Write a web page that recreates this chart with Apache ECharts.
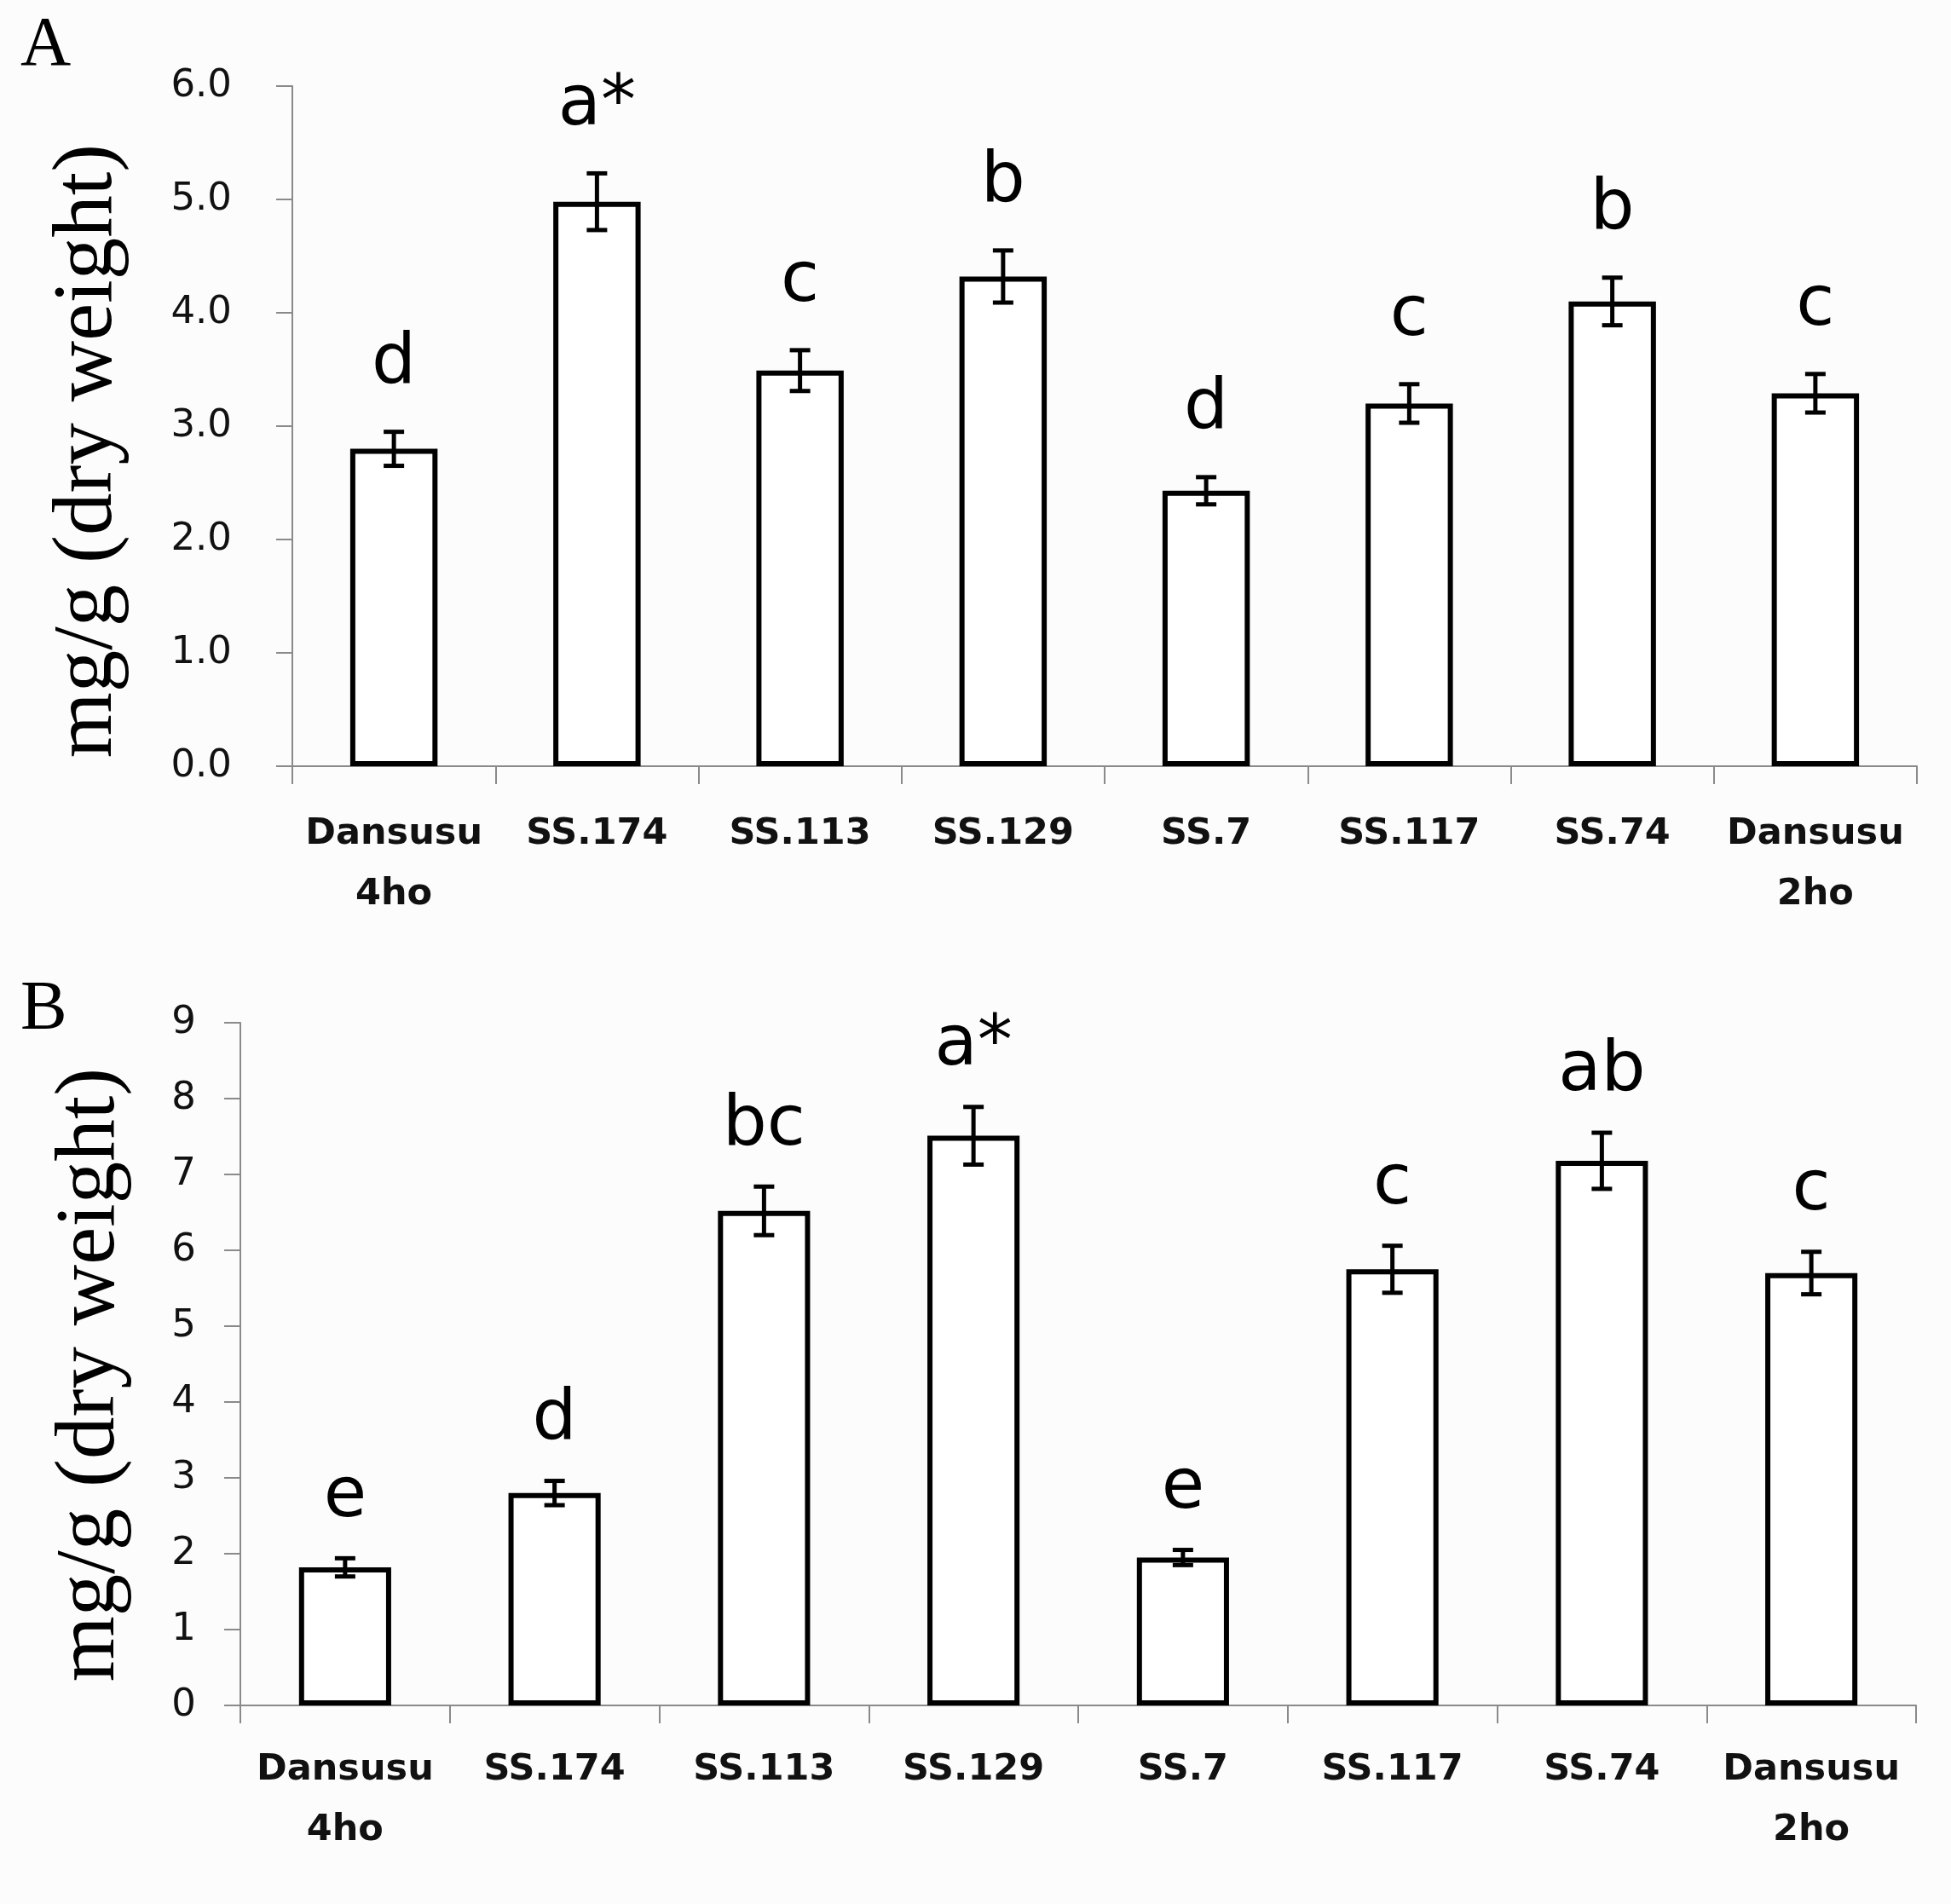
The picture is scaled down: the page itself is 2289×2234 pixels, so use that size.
<!DOCTYPE html>
<html>
<head>
<meta charset="utf-8">
<script src="https://cdn.jsdelivr.net/npm/echarts@6/dist/echarts.min.js"></script>
<style>
  html, body { margin: 0; padding: 0; background: #fcfcfc; }
  #chart { width: 2289px; height: 2234px; }
</style>
</head>
<body>
<div id="chart"></div>
<script>
// cultivars, same order in both panels
const categories = ['Dansusu\n4ho', 'SS.174', 'SS.113', 'SS.129', 'SS.7', 'SS.117', 'SS.74', 'Dansusu\n2ho']

// panel A
const valuesA = [2.80, 4.98, 3.49, 4.32, 2.43, 3.20, 4.10, 3.29]
const errorsA = [0.15, 0.25, 0.18, 0.23, 0.12, 0.17, 0.21, 0.17]
const lettersA = ['d', 'a*', 'c', 'b', 'd', 'c', 'b', 'c']

// panel B
const valuesB = [1.82, 2.80, 6.52, 7.51, 1.95, 5.75, 7.18, 5.70]
const errorsB = [0.12, 0.16, 0.32, 0.38, 0.10, 0.31, 0.37, 0.28]
const lettersB = ['e', 'd', 'bc', 'a*', 'e', 'c', 'ab', 'c']

const axisGray = '#8a8a8a'

function errorBars(letters, offset) {
  return function(params, api) {
    const i = api.value(0)
    const v = api.value(1)
    const e = api.value(2)
    const top = api.coord([i, v + e])
    const bot = api.coord([i, v - e])
    const hw = 12
    const line = { stroke: '#000', lineWidth: 5 }
    return {
      type: 'group',
      children: [
        { type: 'line', shape: { x1: top[0], y1: top[1], x2: bot[0], y2: bot[1] }, style: line },
        { type: 'line', shape: { x1: top[0] - hw, y1: top[1], x2: top[0] + hw, y2: top[1] }, style: line },
        { type: 'line', shape: { x1: bot[0] - hw, y1: bot[1], x2: bot[0] + hw, y2: bot[1] }, style: line },
        {
          type: 'text',
          x: top[0],
          y: top[1] - offset,
          style: {
            text: letters[i],
            fontSize: 82,
            fontFamily: 'DejaVu Sans',
            fill: '#000',
            textAlign: 'center',
            textVerticalAlign: 'bottom'
          }
        }
      ]
    }
  }
}

function xAxisFor(gridIndex, margin) {
  return {
    type: 'category',
    gridIndex: gridIndex,
    data: categories,
    axisLine: { show: true, lineStyle: { color: axisGray, width: 2 } },
    axisTick: { show: true, alignWithLabel: false, length: 21, lineStyle: { color: axisGray, width: 2 } },
    axisLabel: {
      color: '#111',
      fontFamily: 'DejaVu Sans',
      fontWeight: 'bold',
      fontSize: 43,
      lineHeight: 71,
      margin: margin,
      interval: 0
    }
  }
}

function yAxisFor(gridIndex, max, margin, digits) {
  return {
    type: 'value',
    gridIndex: gridIndex,
    min: 0,
    max: max,
    interval: 1,
    splitLine: { show: false },
    axisLine: { show: true, lineStyle: { color: axisGray, width: 2 } },
    axisTick: { show: true, length: 19, lineStyle: { color: axisGray, width: 2 } },
    axisLabel: {
      color: '#111',
      fontFamily: 'DejaVu Sans',
      fontSize: 45,
      margin: margin,
      formatter: v => v.toFixed(digits)
    }
  }
}

const barStyle = { color: '#fff', borderColor: '#000', borderWidth: 6 }

const chart = echarts.init(document.getElementById('chart'))
chart.setOption({
  backgroundColor: '#fcfcfc',
  animation: false,
  grid: [
    { left: 343, right: 40, top: 101, height: 798 },
    { left: 282, right: 41, top: 1200, height: 801 }
  ],
  xAxis: [xAxisFor(0, 44), xAxisFor(1, 40)],
  yAxis: [yAxisFor(0, 6, 71, 1), yAxisFor(1, 9, 52, 0)],
  graphic: [
    { type: 'text', left: 24, top: 13, style: { text: 'A', fontSize: 82, fontFamily: 'Liberation Serif', fill: '#000' } },
    { type: 'text', left: 24, top: 1144, style: { text: 'B', fontSize: 82, fontFamily: 'Liberation Serif', fill: '#000' } },
    {
      type: 'text', x: 104, y: 529, rotation: Math.PI / 2,
      style: { text: 'mg/g (dry weight)', fontSize: 99, fontFamily: 'Liberation Serif', fill: '#000', textAlign: 'center', textVerticalAlign: 'middle' }
    },
    {
      type: 'text', x: 107, y: 1613, rotation: Math.PI / 2,
      style: { text: 'mg/g (dry weight)', fontSize: 99, fontFamily: 'Liberation Serif', fill: '#000', textAlign: 'center', textVerticalAlign: 'middle' }
    }
  ],
  series: [
    {
      type: 'bar',
      xAxisIndex: 0,
      yAxisIndex: 0,
      barWidth: '43%',
      data: valuesA,
      itemStyle: barStyle
    },
    {
      type: 'custom',
      xAxisIndex: 0,
      yAxisIndex: 0,
      renderItem: errorBars(lettersA, 38),
      data: valuesA.map((v, i) => [i, v, errorsA[i]]),
      z: 5
    },
    {
      type: 'bar',
      xAxisIndex: 1,
      yAxisIndex: 1,
      barWidth: '44%',
      data: valuesB,
      itemStyle: barStyle
    },
    {
      type: 'custom',
      xAxisIndex: 1,
      yAxisIndex: 1,
      renderItem: errorBars(lettersB, 30),
      data: valuesB.map((v, i) => [i, v, errorsB[i]]),
      z: 5
    }
  ]
})
</script>
</body>
</html>
